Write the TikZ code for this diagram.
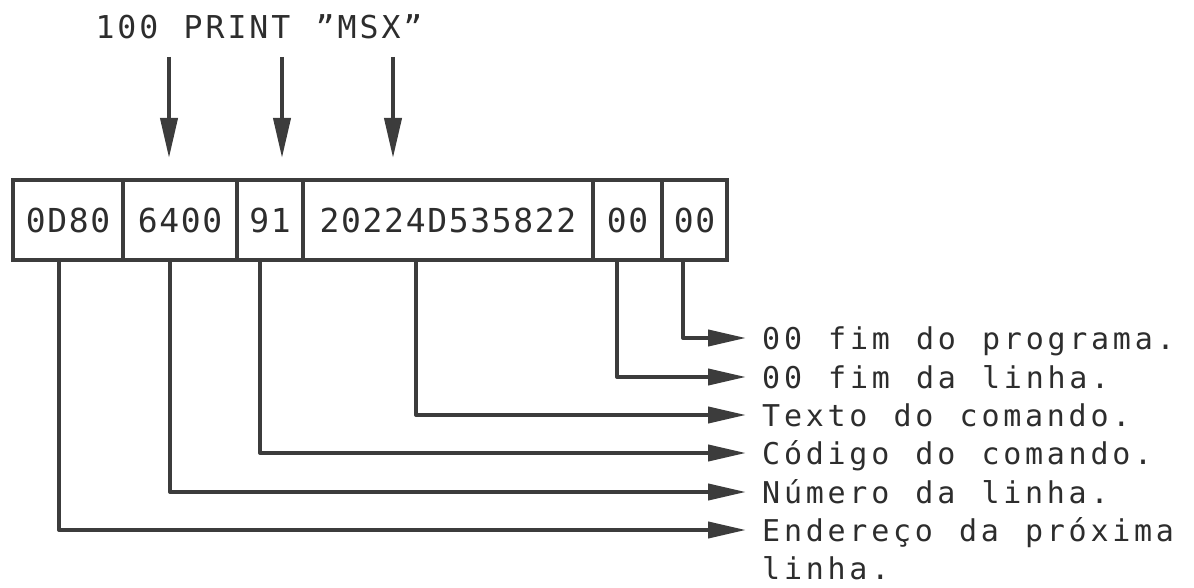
\documentclass[tikz,border=0pt]{standalone}
\usepackage{fontspec}
\usetikzlibrary{arrows.meta,calc}
\newfontfamily\labfont{DejaVu Sans Mono}[LetterSpace=12.5,WordSpace={1.2,0,0}]
\newfontfamily\cellfont{DejaVu Sans Mono}[LetterSpace=5,WordSpace={1.08,0,0}]
\newfontfamily\topfont{DejaVu Sans Mono}[LetterSpace=9.5,WordSpace={1.15,0,0}]
\definecolor{ink}{RGB}{60,60,60}
\definecolor{txt}{RGB}{45,45,45}
\tikzset{
  cell/.style={draw=ink, line width=4pt, rectangle, inner sep=0pt, minimum height=80pt,
    text=txt, font=\cellfont\fontsize{33}{36}\selectfont},
  lab/.style={anchor=west, inner sep=0pt, text height=22pt, text depth=0pt,
    text=txt, font=\labfont\fontsize{30}{36}\selectfont},
  conn/.style={draw=ink, line width=4pt, line join=round,
    -{Triangle[length=38pt,width=16pt]}, shorten >=16pt},
  dn/.style={draw=ink, line width=4pt, -{Triangle[length=40pt,width=17pt]}, shorten >=20pt}
}
\begin{document}
\begin{tikzpicture}[x=1pt,y=-1pt]
\useasboundingbox (0,0) rectangle (1194,588);
% top text
\node[inner sep=0pt, text=txt, font=\topfont\fontsize{31.5}{36}\selectfont] (top) at (259,27) {100 PRINT ”MSX”};
% cells
\node[cell, minimum width=110pt] (c1) at (68,220) {0D80};
\node[cell, minimum width=114pt] (c2) at (180,220) {6400};
\node[cell, minimum width=66pt]  (c3) at (270,220) {91};
\node[cell, minimum width=290pt] (c4) at (448,220) {20224D535822};
\node[cell, minimum width=69pt]  (c5) at (627.5,220) {00};
\node[cell, minimum width=65pt]  (c6) at (694.5,220) {00};
% down arrows
\coordinate (a1) at (169,57);
\coordinate (a2) at (282,57);
\coordinate (a3) at (393,57);
\draw[dn] (a1) -- (a1 |- c2.north);
\draw[dn] (a2) -- (a2 |- c3.north);
\draw[dn] (a3) -- (a3 |- c4.north);
% labels
\node[lab] (l1) at (762,338) {00 fim do programa.};
\node[lab] (l2) at (762,377) {00 fim da linha.};
\node[lab] (l3) at (762,415) {Texto do comando.};
\node[lab] (l4) at (762,453) {Código do comando.};
\node[lab] (l5) at (762,492) {Número da linha.};
\node[lab] (l6) at (762,530) {Endereço da próxima};
\node[lab, anchor=base west] (l6b) at ([yshift=-38.5pt]l6.base west) {linha.};
% connectors
\draw[conn] ([xshift=-11.5pt]c6.south) |- (l1.west);
\draw[conn] ([xshift=-10.5pt]c5.south) |- (l2.west);
\draw[conn] ([xshift=-32pt]c4.south) |- (l3.west);
\draw[conn] ([xshift=-10pt]c3.south) |- (l4.west);
\draw[conn] ([xshift=-10pt]c2.south) |- (l5.west);
\draw[conn] ([xshift=-9pt]c1.south) |- (l6.west);
\end{tikzpicture}
\end{document}
